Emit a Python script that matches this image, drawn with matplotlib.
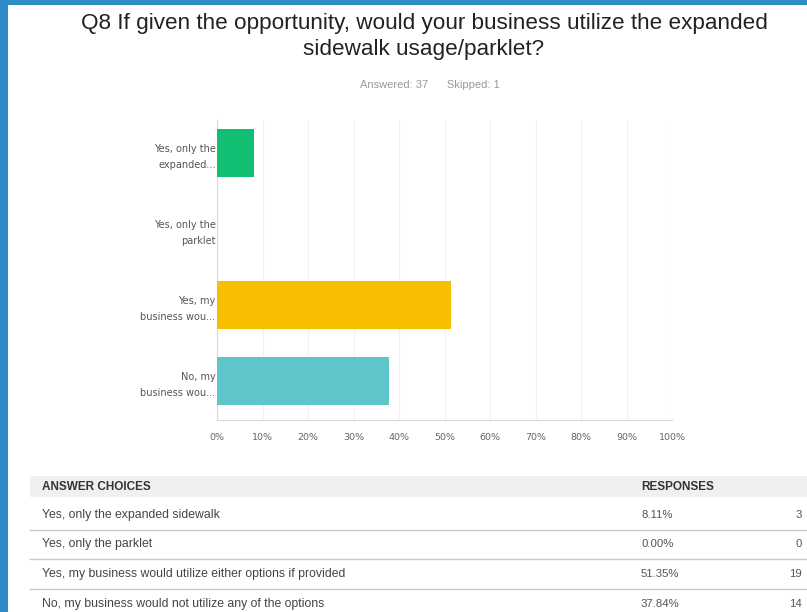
import matplotlib.pyplot as plt
from matplotlib.lines import Line2D
from matplotlib.patches import Rectangle

# Data
labels = ["Yes, only the\nexpanded...", "Yes, only the\nparklet",
          "Yes, my\nbusiness wou...", "No, my\nbusiness wou..."]
choices = ["Yes, only the expanded sidewalk",
           "Yes, only the parklet",
           "Yes, my business would utilize either options if provided",
           "No, my business would not utilize any of the options"]
percents = [8.11, 0.00, 51.35, 37.84]
counts = [3, 0, 19, 14]
colors = ["#12bf72", "#a0a0a0", "#f8be00", "#5ec5ca"]
xticks = [0, 10, 20, 30, 40, 50, 60, 70, 80, 90, 100]

W, H = 807, 612
fig = plt.figure(figsize=(W / 100, H / 100), dpi=100)
fig.patch.set_facecolor("white")

sans = ["Liberation Sans", "DejaVu Sans"]

# blue frame (left and top)
bg = fig.add_axes([0, 0, 1, 1])
bg.set_xlim(0, W)
bg.set_ylim(H, 0)
bg.axis("off")
bg.add_patch(Rectangle((0, 0), 8, H, color="#2e8bc6", lw=0))
bg.add_patch(Rectangle((0, 0), W, 5, color="#2e8bc6", lw=0))

# title
fig.text(424 / W, 1 - 23 / H, "Q8 If given the opportunity, would your business utilize the expanded",
         ha="center", va="center", fontsize=16.2, color="#222222", family=sans)
fig.text(424 / W, 1 - 49 / H, "sidewalk usage/parklet?",
         ha="center", va="center", fontsize=16.2, color="#222222", family=sans)
fig.text(430 / W, 1 - 85 / H, "Answered: 37      Skipped: 1",
         ha="center", va="center", fontsize=8, color="#999999", family=sans)

# bar chart
ax = fig.add_axes([217 / W, 1 - 420 / H, 455 / W, 300 / H])
ypos = list(range(len(labels)))
ax.barh(ypos, percents, height=0.63, color=colors, zorder=3)
ax.set_xlim(0, 100)
ax.set_ylim(3.51, -0.43)
ax.set_yticks(ypos)
ax.set_yticklabels(labels, fontsize=7, color="#555555", linespacing=1.75)
ax.set_xticks(xticks)
ax.set_xticklabels([f"{t}%" for t in xticks], fontsize=6.8, color="#666666")
ax.tick_params(axis="y", length=0, pad=1)
ax.tick_params(axis="x", length=0, pad=9)
for s in ["top", "right"]:
    ax.spines[s].set_visible(False)
ax.spines["left"].set_color("#d8d8d8")
ax.spines["bottom"].set_color("#d8d8d8")
ax.grid(axis="x", color="#f2f2f2", lw=0.8, zorder=0)

# table
bg.add_patch(Rectangle((30, 476), W - 30, 21, color="#f0f0f0", lw=0))
bg.text(42, 487, "ANSWER CHOICES", fontsize=8.5, color="#333333", va="center",
        weight="semibold", family=sans)
bg.text(641, 487, "RESPONSES", fontsize=8.5, color="#333333", va="center",
        weight="semibold", family=sans)
row_y = [515, 544, 574, 604]
for i, (c, p, n) in enumerate(zip(choices, percents, counts)):
    y = row_y[i]
    bg.text(42, y, c, fontsize=8.8, color="#444444", va="center", family=sans)
    bg.text(641, y, f"{p:.2f}%", fontsize=8.2, color="#555555", va="center", family=sans)
    bg.text(802, y, str(n), fontsize=8.2, color="#555555", va="center", ha="right", family=sans)
    if i < len(choices) - 1:
        bg.add_line(Line2D([30, W], [y + 14.5, y + 14.5], color="#c8c8c8", lw=1))

fig.savefig("out.png", dpi=100)
